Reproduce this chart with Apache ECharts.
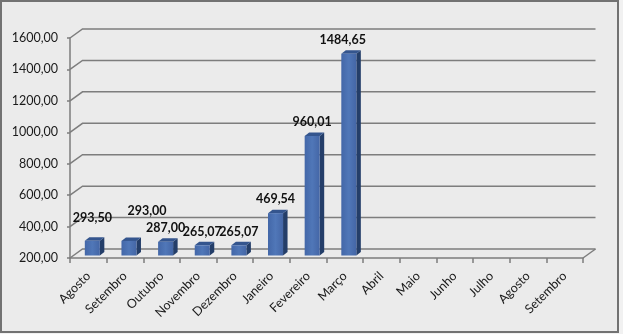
<!DOCTYPE html>
<html><head><meta charset="utf-8">
<script src="https://cdn.jsdelivr.net/npm/echarts@6/dist/echarts.min.js"></script>
<style>html,body{margin:0;padding:0;background:#f1f1f1}#c{width:623px;height:334px}</style>
</head><body><div id="c"></div>
<script>
const categories = ['Agosto','Setembro','Outubro','Novembro','Dezembro','Janeiro','Fevereiro','Março','Abril','Maio','Junho','Julho','Agosto','Setembro'];
const values = [293.50, 293.00, 287.00, 265.07, 265.07, 469.54, 960.01, 1484.65, null, null, null, null, null, null];
const yTicks = [200, 400, 600, 800, 1000, 1200, 1400, 1600];

const fmt = v => v.toFixed(2).replace('.', ',');
const FONT = 'Lato, "Open Sans", sans-serif';
const GRID_COLOR = '#7d7d7d';
const BACK_DX = 12.5, BACK_DY = -9;     // back wall offset
const FACE_DX = 4, FACE_DY = -2.5;      // bar front-face depth offset
const BAR_DX = 4.5, BAR_DY = -3.5;      // bar depth
// label nudges per bar [dx, dy] (layout only)
const labelNudge = [[0,-9],[18,-16.5],[0,-0.5],[0,0],[0,0],[0,-0.5],[0,-0.5],[-6,0]];

const barData = values.map((v, i) => [i, v]).filter(d => d[1] != null);

const chart = echarts.init(document.getElementById('c'), null, {renderer: 'canvas'});
chart.setOption({
  backgroundColor: '#f1f1f1',
  animation: false,
  graphic: [{
    type: 'rect', z: -100, silent: true,
    shape: {x: 1, y: 1, width: 617, height: 331},
    style: {fill: '#ebebeb', stroke: '#727272', lineWidth: 2}
  }],
  grid: {left: 70, right: 40, top: 38, bottom: 76, containLabel: false},
  xAxis: {
    type: 'category', data: categories, boundaryGap: true,
    axisLine: {show: true, lineStyle: {color: GRID_COLOR, width: 1.5}},
    axisTick: {show: true, length: 5, interval: 0, lineStyle: {color: GRID_COLOR, width: 1.5}},
    axisLabel: {interval: 0, rotate: 45, margin: 16, fontSize: 12.5, fontFamily: FONT, color: '#1a1a1a'},
    splitLine: {show: false}
  },
  yAxis: {
    type: 'value', min: 200, max: 1600, interval: 200,
    axisLine: {show: true, lineStyle: {color: GRID_COLOR, width: 1.5}},
    axisTick: {show: true, length: 3, lineStyle: {color: GRID_COLOR, width: 1.5}},
    axisLabel: {formatter: v => fmt(v), margin: 12, fontSize: 12.5, fontFamily: FONT, color: '#1a1a1a'},
    splitLine: {show: false}
  },
  series: [
    {
      type: 'custom', z: 1, silent: true,
      data: yTicks.map(t => [0, t]),
      renderItem: (params, api) => {
        const cs = params.coordSys;
        const t = api.value(1);
        const y = api.coord([0, t])[1];
        const x0 = cs.x, x1 = cs.x + cs.width;
        const children = [{
          type: 'polyline',
          shape: {points: [[x0, y], [x0 + BACK_DX, y + BACK_DY], [x1 + BACK_DX, y + BACK_DY]]},
          style: {stroke: GRID_COLOR, lineWidth: 1.5, fill: null}
        }];
        if (t === yTicks[0]) {
          children.push({
            type: 'polyline',
            shape: {points: [[x1, y], [x1 + BACK_DX, y + BACK_DY]]},
            style: {stroke: GRID_COLOR, lineWidth: 1.5, fill: null}
          });
        }
        return {type: 'group', children};
      }
    },
    {
      type: 'custom', z: 5, silent: true,
      data: barData,
      renderItem: (params, api) => {
        const i = api.value(0), v = api.value(1);
        const top = api.coord([i, v]);
        const base = api.coord([i, yTicks[0]]);
        const band = api.size([1, 0])[0];
        const w = band * 0.41;
        const cx = top[0] + FACE_DX;
        const xl = cx - w / 2, xr = cx + w / 2;
        const yt = top[1] + FACE_DY, yb = base[1] + FACE_DY;
        const nd = labelNudge[params.dataIndex] || [0, 0];
        return {
          type: 'group',
          children: [
            {type: 'polygon', shape: {points: [[xr, yt], [xr + BAR_DX, yt + BAR_DY], [xr + BAR_DX, yb + BAR_DY], [xr, yb]]},
             style: {fill: '#243e69'}},
            {type: 'polygon', shape: {points: [[xl, yt], [xl + BAR_DX, yt + BAR_DY], [xr + BAR_DX, yt + BAR_DY], [xr, yt]]},
             style: {fill: '#34558e'}},
            {type: 'rect', shape: {x: xl, y: yt, width: w, height: yb - yt},
             style: {fill: new echarts.graphic.LinearGradient(0, 0, 1, 0, [
               {offset: 0, color: '#4367a8'}, {offset: 0.5, color: '#5077b8'}, {offset: 1, color: '#4466a6'}])}},
            {type: 'text', z2: 10,
             style: {text: fmt(v), x: cx + nd[0], y: yt - 13.5 + nd[1], align: 'center', verticalAlign: 'middle',
                     font: 'bold 12.5px ' + FONT, fill: '#111'}}
          ]
        };
      }
    }
  ]
});
</script>
</body></html>
